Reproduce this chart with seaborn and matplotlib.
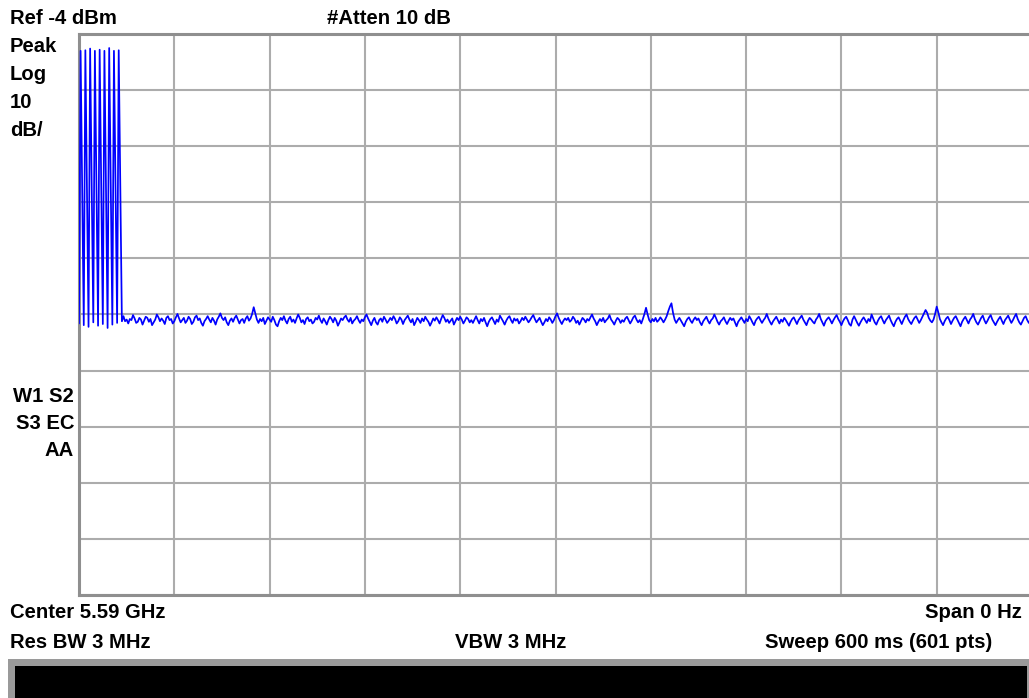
import numpy as np
import pandas as pd
import matplotlib
matplotlib.use("Agg")
import matplotlib.pyplot as plt
from matplotlib.patches import Rectangle
import seaborn as sns

# ---------------- data (dBm per sweep point, 1 ms / point) ----------------
pulse_dbm = [-55.6, -7.0, -30.8, -55.9, -6.9, -31.2, -56.2, -6.6, -30.5, -55.4,
             -7.0, -31.0, -56.0, -6.8, -30.7, -55.7, -7.0, -31.4, -56.4, -6.5,
             -30.9, -55.8, -7.0, -30.6, -55.5, -6.9, -30.3, -55.2]

noise_dbm = [
    -54.3, -55.2, -54.9, -55.6, -54.8, -55.0, -54.1, -54.7, -55.5, -55.3, -54.6, -54.9, -55.8, -55.1, -54.4, -54.6, -55.3, -54.8, -55.9, -55.4,
    -54.9, -54.0, -54.5, -55.2, -54.7, -55.1, -55.7, -54.6, -54.3, -55.0, -54.8, -55.6, -55.2, -54.5, -53.9, -54.7, -55.4, -55.0, -54.6, -55.5,
    -55.1, -54.4, -54.8, -55.7, -55.3, -54.5, -54.2, -55.0, -54.7, -55.5, -56.0, -55.2, -54.8, -54.3, -54.9, -55.4, -54.6, -55.1, -55.8, -54.9,
    -54.4, -53.8, -54.6, -55.0, -54.5, -55.4, -55.9, -55.1, -54.7, -55.3, -54.6, -54.2, -54.9, -55.6, -55.0, -54.8, -55.5, -54.7, -54.3, -55.1,
    -54.7, -53.9, -52.7, -53.8, -54.9, -55.5, -54.8, -55.2, -54.6, -55.7, -55.1, -54.5, -54.9, -55.3, -54.4, -55.0, -55.8, -56.1, -55.2, -54.6,
    -55.0, -54.3, -55.1, -55.6, -54.8, -54.4, -55.3, -54.9, -55.5, -54.7, -54.0, -54.6, -55.4, -55.0, -55.7, -54.8, -54.5, -55.2, -54.9, -55.6,
    -55.3, -54.6, -54.9, -54.2, -55.0, -55.5, -54.7, -55.2, -55.8, -55.0, -54.4, -54.8, -55.4, -54.6, -55.1, -56.0, -55.4, -54.7, -55.0, -54.5,
    -54.2, -54.9, -55.3, -54.6, -55.6, -55.1, -54.8, -54.3, -55.0, -55.5, -54.9, -55.2, -54.5, -54.0, -54.7, -55.3, -55.9, -55.1, -54.6, -55.4,
    -55.8, -55.0, -54.7, -55.3, -54.4, -54.9, -55.5, -55.1, -54.6, -55.0, -54.3, -54.8, -55.6, -55.2, -54.5, -54.9, -55.7, -55.0, -54.6, -54.2,
    -54.9, -55.4, -54.8, -55.9, -55.3, -54.6, -55.0, -55.5, -54.7, -55.2, -54.4, -54.9, -55.3, -56.0, -55.4, -54.7, -55.1, -54.5, -55.0, -55.6,
    -54.8, -54.1, -54.6, -55.3, -54.9, -55.5, -55.1, -54.7, -55.8, -55.2, -54.6, -55.0, -54.4, -54.9, -55.6, -55.1, -54.5, -54.8, -55.4, -55.0,
    -55.5, -54.9, -54.3, -55.0, -55.6, -54.8, -55.2, -54.6, -55.4, -56.1, -55.3, -54.8, -54.5, -55.1, -55.7, -54.9, -55.3, -54.2, -54.7, -55.2,
    -55.8, -55.1, -54.6, -54.3, -55.0, -55.5, -54.7, -55.1, -54.8, -55.6, -55.2, -54.6, -55.0, -54.4, -54.9, -55.4, -55.0, -54.5, -54.1, -54.8,
    -55.4, -55.0, -54.6, -55.3, -55.9, -55.4, -54.8, -55.2, -54.5, -54.9, -55.5, -55.0, -54.3, -53.8, -54.6, -55.2, -55.7, -55.1, -54.7, -55.0,
    -54.6, -55.3, -55.0, -54.4, -54.8, -55.5, -55.1, -55.8, -55.2, -54.6, -54.9, -55.4, -54.8, -55.1, -54.5, -54.0, -54.7, -55.2, -55.9, -55.3,
    -54.8, -55.2, -54.6, -55.4, -55.0, -54.7, -54.1, -54.9, -55.3, -55.8, -55.1, -54.6, -54.9, -55.5, -55.0, -55.3, -54.7, -54.4, -55.0, -55.6,
    -55.1, -54.5, -54.2, -54.9, -55.4, -55.0, -55.6, -54.8, -53.9, -52.8, -54.0, -55.0, -55.4, -54.8, -55.2, -54.6, -55.3, -55.0, -54.5, -54.9,
    -55.4, -54.9, -54.3, -53.4, -52.6, -52.0, -53.7, -54.9, -55.5, -55.0, -54.6, -55.1, -55.6, -56.1, -55.3, -54.8, -54.5, -55.1, -55.5, -54.9,
    -54.5, -55.0, -54.7, -55.4, -55.9, -55.2, -54.8, -54.4, -55.1, -55.6, -55.0, -54.7, -54.0, -54.6, -55.3, -55.8, -55.2, -54.9, -54.5, -55.2,
    -55.7, -55.1, -54.6, -55.0, -54.7, -55.4, -56.1, -55.3, -54.9, -54.5, -55.0, -55.5, -54.8, -55.2, -54.3, -54.8, -55.4, -55.9, -55.1, -54.7,
    -54.4, -55.0, -55.5, -55.0, -54.6, -53.9, -54.7, -55.3, -55.8, -55.2, -54.8, -54.4, -55.0, -55.6, -54.9, -55.3, -54.6, -55.0, -55.5, -56.0,
    -55.3, -54.8, -54.5, -55.1, -55.7, -55.0, -54.6, -54.2, -54.9, -55.4, -55.9, -55.1, -54.6, -54.9, -55.3, -55.6, -54.9, -54.5, -53.9, -54.8,
    -55.4, -56.0, -55.2, -54.8, -54.5, -55.0, -55.6, -55.0, -54.5, -54.1, -54.8, -55.3, -55.9, -55.2, -54.7, -54.4, -55.0, -55.7, -56.0, -54.9,
    -54.3, -54.9, -55.5, -56.0, -55.4, -54.9, -54.5, -55.0, -55.5, -54.8, -55.2, -54.0, -54.7, -55.4, -55.8, -55.1, -54.6, -54.3, -55.0, -55.6,
    -55.0, -54.6, -54.2, -55.0, -55.6, -56.1, -55.3, -54.8, -54.5, -55.1, -55.7, -55.0, -54.4, -54.0, -54.8, -55.3, -55.7, -55.1, -54.6, -54.3,
    -54.9, -55.5, -55.0, -54.4, -53.8, -53.2, -53.7, -54.6, -55.1, -55.4, -54.9, -53.9, -52.6, -53.6, -54.8, -55.4, -55.9, -55.2, -54.7, -54.4,
    -55.0, -55.7, -55.1, -54.6, -54.3, -54.9, -55.5, -56.1, -55.3, -54.8, -54.4, -55.0, -55.6, -54.9, -54.5, -53.9, -54.8, -55.4, -55.8, -55.2,
    -54.6, -54.2, -55.0, -55.6, -55.1, -54.5, -54.1, -54.9, -55.4, -55.9, -55.3, -54.8, -54.4, -55.1, -55.7, -55.0, -54.6, -54.2, -54.9, -55.5,
    -55.0, -54.4, -53.9, -54.8, -55.4, -55.8, -55.2, -54.6, -54.3, -55.0, -55.5, -54.9, -54.5,
]

trace_dbm = pulse_dbm + noise_dbm

ref_level = -4      # dBm (top of screen)
db_per_div = 10
sweep_ms = 600

header_left = ["Ref -4 dBm", "Peak", "Log", "10", "dB/"]
status_labels = ["W1 S2", "S3 EC", "AA"]

# ---------------- figure ----------------
W, H = 1029, 698
sns.set_style("white")
plt.rcParams['font.family'] = ['Liberation Sans', 'DejaVu Sans']

fig = plt.figure(figsize=(W / 100, H / 100), dpi=100)
fig.patch.set_facecolor("white")

L, T, R, B = 79, 34, 1032, 595
ax = fig.add_axes([L / W, 1 - B / H, (R - L) / W, (B - T) / H])

df = pd.DataFrame({"t": np.arange(len(trace_dbm)), "dbm": trace_dbm})
sns.lineplot(data=df, x="t", y="dbm", ax=ax, color="#0000ff", linewidth=1.25,
             estimator=None, zorder=3)

ax.set_xlim(0, sweep_ms)
ax.set_ylim(ref_level - 10 * db_per_div, ref_level)
ax.set_xticks(np.linspace(0, sweep_ms, 11))
ax.set_yticks(np.arange(ref_level - 10 * db_per_div, ref_level + 1, db_per_div))
ax.grid(True, color="#acacac", linewidth=1.5, zorder=1)
ax.set_axisbelow(True)
ax.tick_params(length=0, labelbottom=False, labelleft=False)
ax.set_xlabel("")
ax.set_ylabel("")
for s in ax.spines.values():
    s.set_color("#8f8f8f")
    s.set_linewidth(2.2)
    s.set_visible(True)


def ftxt(x, y, s, ha="left"):
    fig.text(x / W, 1 - y / H, s, ha=ha, va="center", fontsize=14.6,
             fontweight="bold", color="black")


# header
ftxt(10, 19, header_left[0])
for i, s in enumerate(header_left[1:]):
    ftxt(10, 47 + i * 28, s)
ftxt(327, 19, "#Atten 10 dB")

# status labels (right aligned)
for i, s in enumerate(status_labels):
    ftxt(74, 397 + i * 26.5, s, ha="right")

# footer
ftxt(10, 613, "Center 5.59 GHz")
ftxt(1022, 613, "Span 0 Hz", ha="right")
ftxt(10, 642, "Res BW 3 MHz")
ftxt(455, 642, "VBW 3 MHz")
ftxt(765, 642, "Sweep 600 ms (601 pts)")

# black message bar at bottom
fig.patches.append(Rectangle((8 / W, 0), (1029 - 8) / W, (H - 659) / H,
                             transform=fig.transFigure, facecolor="#9a9a9a",
                             edgecolor="none", zorder=0))
fig.patches.append(Rectangle((15 / W, 0), (1027 - 15) / W, (H - 666) / H,
                             transform=fig.transFigure, facecolor="black",
                             edgecolor="none", zorder=1))

fig.savefig("out.png", dpi=100, facecolor="white")
